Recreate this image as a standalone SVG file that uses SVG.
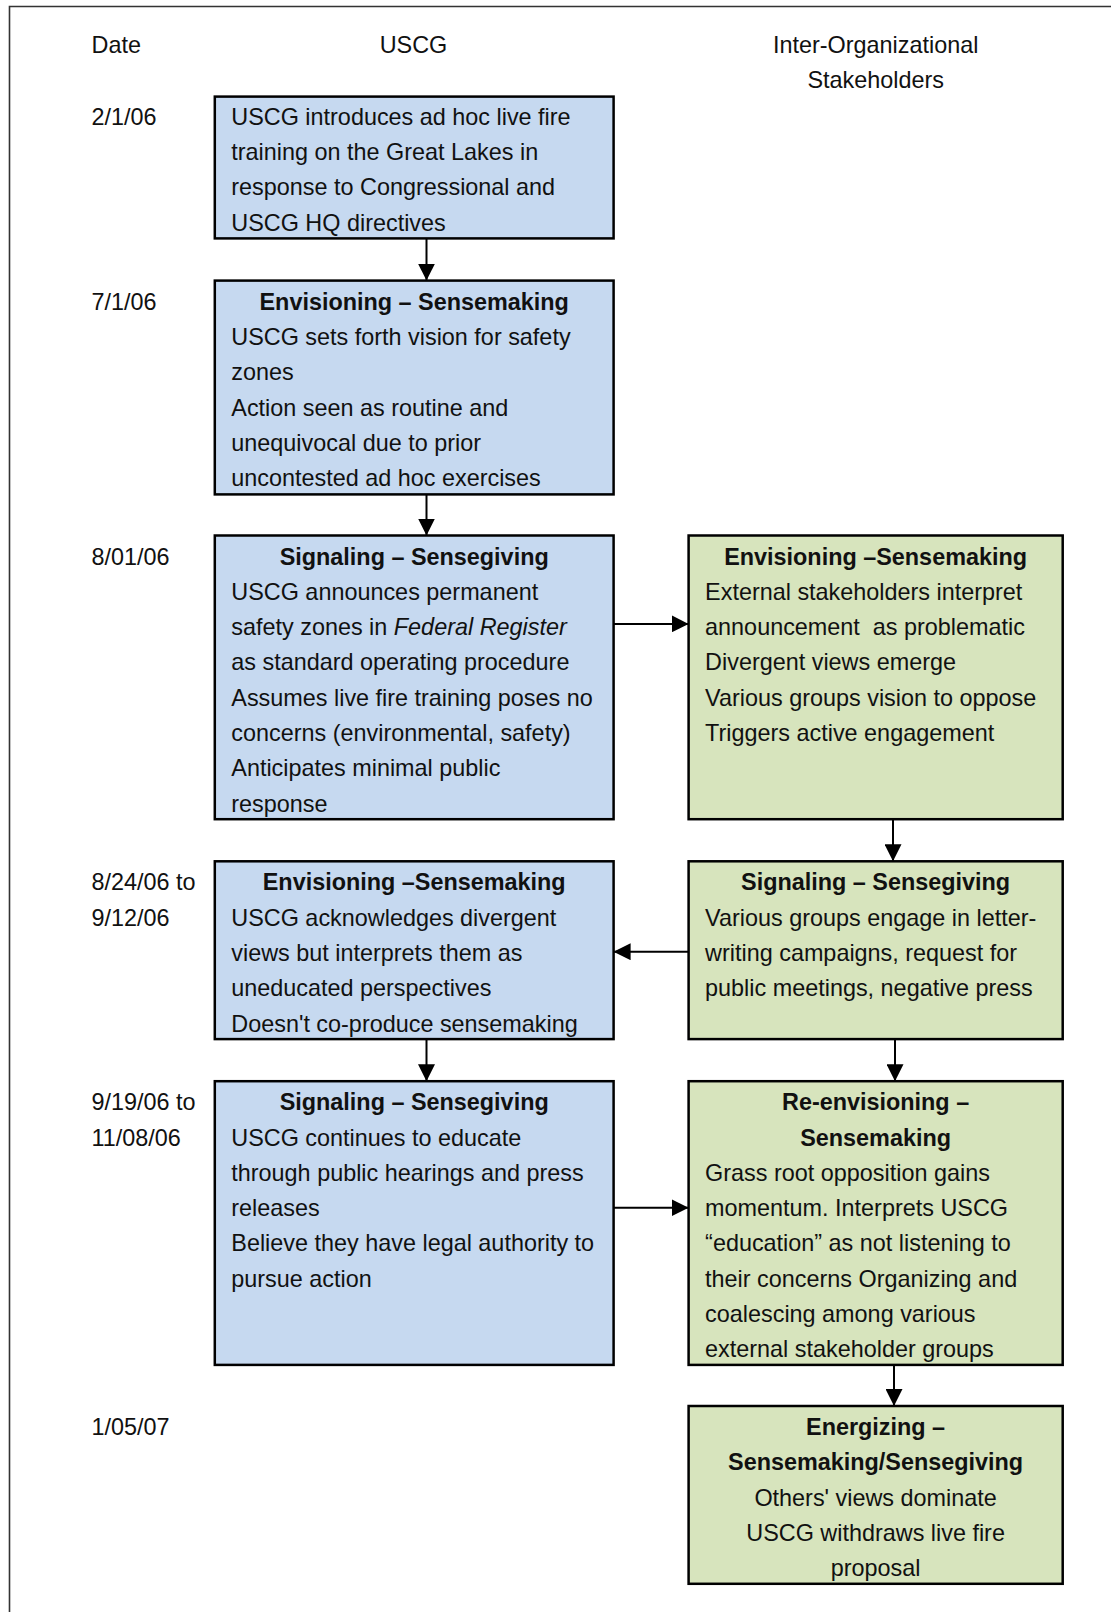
<svg xmlns="http://www.w3.org/2000/svg" width="1111" height="1612" viewBox="0 0 1111 1612">
<style>
text{font-family:"Liberation Sans",Arial,sans-serif;font-size:23.4px;fill:#111}
.t{font-weight:bold;text-anchor:middle}
.c{text-anchor:middle}
.blue{fill:#C6D9F0;stroke:#000;stroke-width:2.5}
.green{fill:#D7E4BD;stroke:#000;stroke-width:2.5}
.conn line{stroke:#000;stroke-width:2}
</style>
<defs>
<marker id="ah" markerUnits="userSpaceOnUse" markerWidth="17" markerHeight="17" refX="17" refY="8.5" orient="auto">
<path d="M0,0 L17,8.5 L0,17 z" fill="#000"/>
</marker>
</defs>
<rect width="1111" height="1612" fill="#fff"/>
<path d="M9.5,1612 V6.5 H1111" fill="none" stroke="#333" stroke-width="1.6"/>
<g id="headers">
<text x="91.5" y="52.6">Date</text>
<text class="c" x="413.5" y="52.6">USCG</text>
<text class="c" x="875.7" y="52.6">Inter-Organizational</text>
<text class="c" x="875.7" y="87.9">Stakeholders</text>
</g>
<g id="dates">
<text x="91.5" y="124.6">2/1/06</text>
<text x="91.5" y="309.6">7/1/06</text>
<text x="91.5" y="564.5">8/01/06</text>
<text x="91.5" y="890.3">8/24/06 to</text>
<text x="91.5" y="925.6">9/12/06</text>
<text x="91.5" y="1110.2">9/19/06 to</text>
<text x="91.5" y="1145.5">11/08/06</text>
<text x="91.5" y="1435">1/05/07</text>
</g>
<g id="connectors" class="conn">
<line x1="426.5" y1="238.4" x2="426.5" y2="280.6" marker-end="url(#ah)"/>
<line x1="426.5" y1="494.4" x2="426.5" y2="535.5" marker-end="url(#ah)"/>
<line x1="613.6" y1="623.9" x2="688.6" y2="623.9" marker-end="url(#ah)"/>
<line x1="893" y1="819.2" x2="893" y2="861.3" marker-end="url(#ah)"/>
<line x1="688.6" y1="951.7" x2="613.6" y2="951.7" marker-end="url(#ah)"/>
<line x1="426.5" y1="1039.1" x2="426.5" y2="1081.2" marker-end="url(#ah)"/>
<line x1="895" y1="1039.1" x2="895" y2="1081.2" marker-end="url(#ah)"/>
<line x1="613.6" y1="1207.7" x2="688.6" y2="1207.7" marker-end="url(#ah)"/>
<line x1="894" y1="1364.9" x2="894" y2="1406" marker-end="url(#ah)"/>
</g>
<g id="b1">
<rect class="blue" x="214.8" y="96.6" width="398.8" height="141.8"/>
<text x="231.3" y="124.6">USCG introduces ad hoc live fire</text>
<text x="231.3" y="159.9">training on the Great Lakes in</text>
<text x="231.3" y="195.2">response to Congressional and</text>
<text x="231.3" y="230.5">USCG HQ directives</text>
</g>
<g id="b2">
<rect class="blue" x="214.8" y="280.6" width="398.8" height="213.8"/>
<text class="t" x="414.2" y="309.6">Envisioning – Sensemaking</text>
<text x="231.3" y="344.9">USCG sets forth vision for safety</text>
<text x="231.3" y="380.2">zones</text>
<text x="231.3" y="415.5">Action seen as routine and</text>
<text x="231.3" y="450.8">unequivocal due to prior</text>
<text x="231.3" y="486.1">uncontested ad hoc exercises</text>
</g>
<g id="b3">
<rect class="blue" x="214.8" y="535.5" width="398.8" height="283.7"/>
<text class="t" x="414.2" y="564.5">Signaling – Sensegiving</text>
<text x="231.3" y="599.8">USCG announces permanent</text>
<text x="231.3" y="635.1">safety zones in <tspan font-style="italic">Federal Register</tspan></text>
<text x="231.3" y="670.4">as standard operating procedure</text>
<text x="231.3" y="705.7">Assumes live fire training poses no</text>
<text x="231.3" y="741">concerns (environmental, safety)</text>
<text x="231.3" y="776.3">Anticipates minimal public</text>
<text x="231.3" y="811.6">response</text>
</g>
<g id="g1">
<rect class="green" x="688.6" y="535.5" width="374.1" height="283.7"/>
<text class="t" x="875.6" y="564.5">Envisioning –Sensemaking</text>
<text x="705.1" y="599.8">External stakeholders interpret</text>
<text x="705.1" y="635.1" xml:space="preserve">announcement  as problematic</text>
<text x="705.1" y="670.4">Divergent views emerge</text>
<text x="705.1" y="705.7">Various groups vision to oppose</text>
<text x="705.1" y="741">Triggers active engagement</text>
</g>
<g id="b4">
<rect class="blue" x="214.8" y="861.3" width="398.8" height="177.8"/>
<text class="t" x="414.2" y="890.3">Envisioning –Sensemaking</text>
<text x="231.3" y="925.6">USCG acknowledges divergent</text>
<text x="231.3" y="960.9">views but interprets them as</text>
<text x="231.3" y="996.2">uneducated perspectives</text>
<text x="231.3" y="1031.5">Doesn't co-produce sensemaking</text>
</g>
<g id="g2">
<rect class="green" x="688.6" y="861.3" width="374.1" height="177.8"/>
<text class="t" x="875.6" y="890.3">Signaling – Sensegiving</text>
<text x="705.1" y="925.6">Various groups engage in letter-</text>
<text x="705.1" y="960.9">writing campaigns, request for</text>
<text x="705.1" y="996.2">public meetings, negative press</text>
</g>
<g id="b5">
<rect class="blue" x="214.8" y="1081.2" width="398.8" height="283.7"/>
<text class="t" x="414.2" y="1110.2">Signaling – Sensegiving</text>
<text x="231.3" y="1145.5">USCG continues to educate</text>
<text x="231.3" y="1180.8">through public hearings and press</text>
<text x="231.3" y="1216.1">releases</text>
<text x="231.3" y="1251.4">Believe they have legal authority to</text>
<text x="231.3" y="1286.7">pursue action</text>
</g>
<g id="g3">
<rect class="green" x="688.6" y="1081.2" width="374.1" height="283.7"/>
<text class="t" x="875.6" y="1110.2">Re-envisioning –</text>
<text class="t" x="875.6" y="1145.5">Sensemaking</text>
<text x="705.1" y="1180.8">Grass root opposition gains</text>
<text x="705.1" y="1216.1">momentum. Interprets USCG</text>
<text x="705.1" y="1251.4">“education” as not listening to</text>
<text x="705.1" y="1286.7">their concerns Organizing and</text>
<text x="705.1" y="1322">coalescing among various</text>
<text x="705.1" y="1357.3">external stakeholder groups</text>
</g>
<g id="g4">
<rect class="green" x="688.6" y="1406" width="374.1" height="177.8"/>
<text class="t" x="875.6" y="1435">Energizing –</text>
<text class="t" x="875.6" y="1470.3">Sensemaking/Sensegiving</text>
<text class="c" x="875.6" y="1505.6">Others' views dominate</text>
<text class="c" x="875.6" y="1540.9">USCG withdraws live fire</text>
<text class="c" x="875.6" y="1576.2">proposal</text>
</g>
</svg>
